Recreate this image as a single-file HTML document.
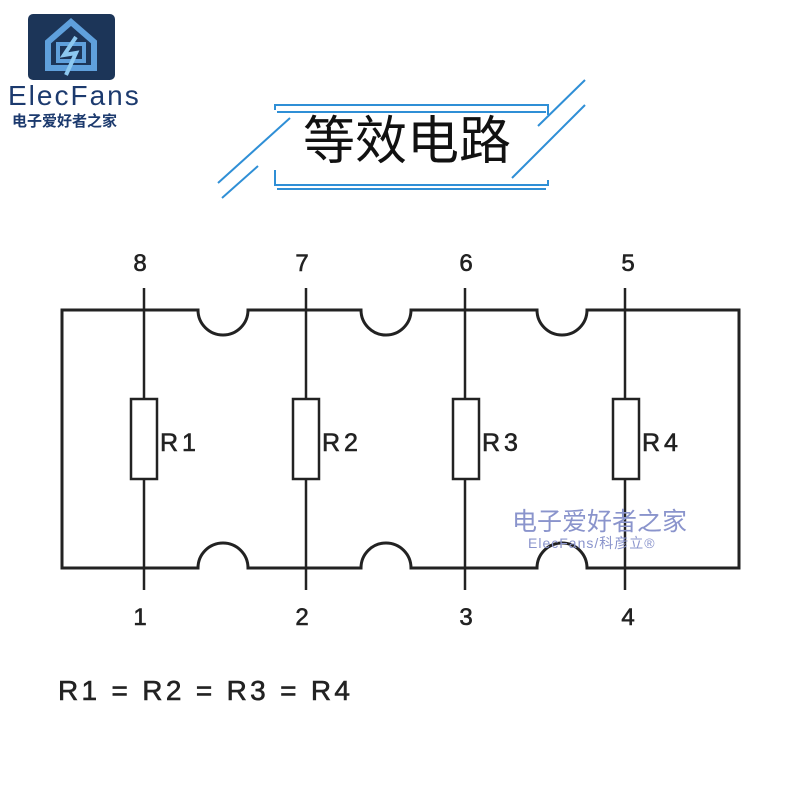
<!DOCTYPE html>
<html><head><meta charset="utf-8"><style>
body{margin:0;background:#fff;width:800px;height:800px;overflow:hidden;position:relative;font-family:"Liberation Sans","Noto Sans CJK SC",sans-serif}
.a{position:absolute;white-space:nowrap}
</style></head><body>
<svg width="800" height="800" style="position:absolute;left:0;top:0">
<rect x="28" y="14" width="87" height="66" rx="5" fill="#1c3558"/>
<path d="M48 68 L48 42 L71 22 L94 42 L94 68 Z" fill="none" stroke="#5fa0dc" stroke-width="6"/>
<rect x="58" y="44" width="26" height="17" fill="none" stroke="#5fa0dc" stroke-width="4"/>
<path d="M76 37 L64 55 L76 53 L66 75" fill="none" stroke="#8cc8f0" stroke-width="4"/>
<g stroke="#2f8fd6" stroke-width="2" fill="none">
<path d="M275 110 V105 H548 V115"/><path d="M277 112 H546"/>
<path d="M275 170 V185 H548 V180"/><path d="M277 189 H546"/>
<path d="M218 183 L290 118"/><path d="M222 198 L258 166"/>
<path d="M538 126 L585 80"/><path d="M512 178 L585 105"/>
</g>
<g stroke="#222" stroke-width="3" fill="none">
<path d="M62 310 H198 A25 25 0 0 0 248 310 H361 A25 25 0 0 0 411 310 H537 A25 25 0 0 0 587 310 H739 V568 H587 A25 25 0 0 0 537 568 H411 A25 25 0 0 0 361 568 H248 A25 25 0 0 0 198 568 H62 Z"/>
</g>
<g stroke="#222" stroke-width="2.5" fill="#fff">
<line x1="144" y1="288" x2="144" y2="590"/><line x1="306" y1="288" x2="306" y2="590"/>
<line x1="465" y1="288" x2="465" y2="590"/><line x1="625" y1="288" x2="625" y2="590"/>
<rect x="131" y="399" width="26" height="80"/><rect x="293" y="399" width="26" height="80"/>
<rect x="453" y="399" width="26" height="80"/><rect x="613" y="399" width="26" height="80"/>
</g>
<g font-family="Liberation Sans,sans-serif" font-size="25" fill="#222" stroke="#222" stroke-width="0.6">
<g letter-spacing="4"><text x="160" y="451">R1</text><text x="322" y="451">R2</text><text x="482" y="451">R3</text><text x="642" y="451">R4</text></g>
<g text-anchor="middle" font-size="24">
<text x="140" y="271">8</text><text x="302" y="271">7</text><text x="466" y="271">6</text><text x="628" y="271">5</text>
<text x="140" y="625">1</text><text x="302" y="625">2</text><text x="466" y="625">3</text><text x="628" y="625">4</text>
</g>
<text x="58" y="700" font-size="28" textLength="292" lengthAdjust="spacing">R1 = R2 = R3 = R4</text>
</g>
</svg>
<div class="a" style="left:8px;top:80px;font-size:28px;color:#1c3a6e;letter-spacing:2px">ElecFans</div>
<div class="a" style="left:12px;top:110px;font-size:15px;font-weight:bold;color:#1c3a6e">电子爱好者之家</div>
<div class="a" style="left:303px;top:112px;font-size:52px;color:#111;line-height:60px">等效电路</div>
<div class="a" style="left:512px;top:502px;font-size:25px;color:#8a94cc">电子爱好者之家</div>
<div class="a" style="left:528px;top:533px;font-size:14px;color:#8a94cc;letter-spacing:1px">ElecFans/科彦立®</div>
</body></html>
